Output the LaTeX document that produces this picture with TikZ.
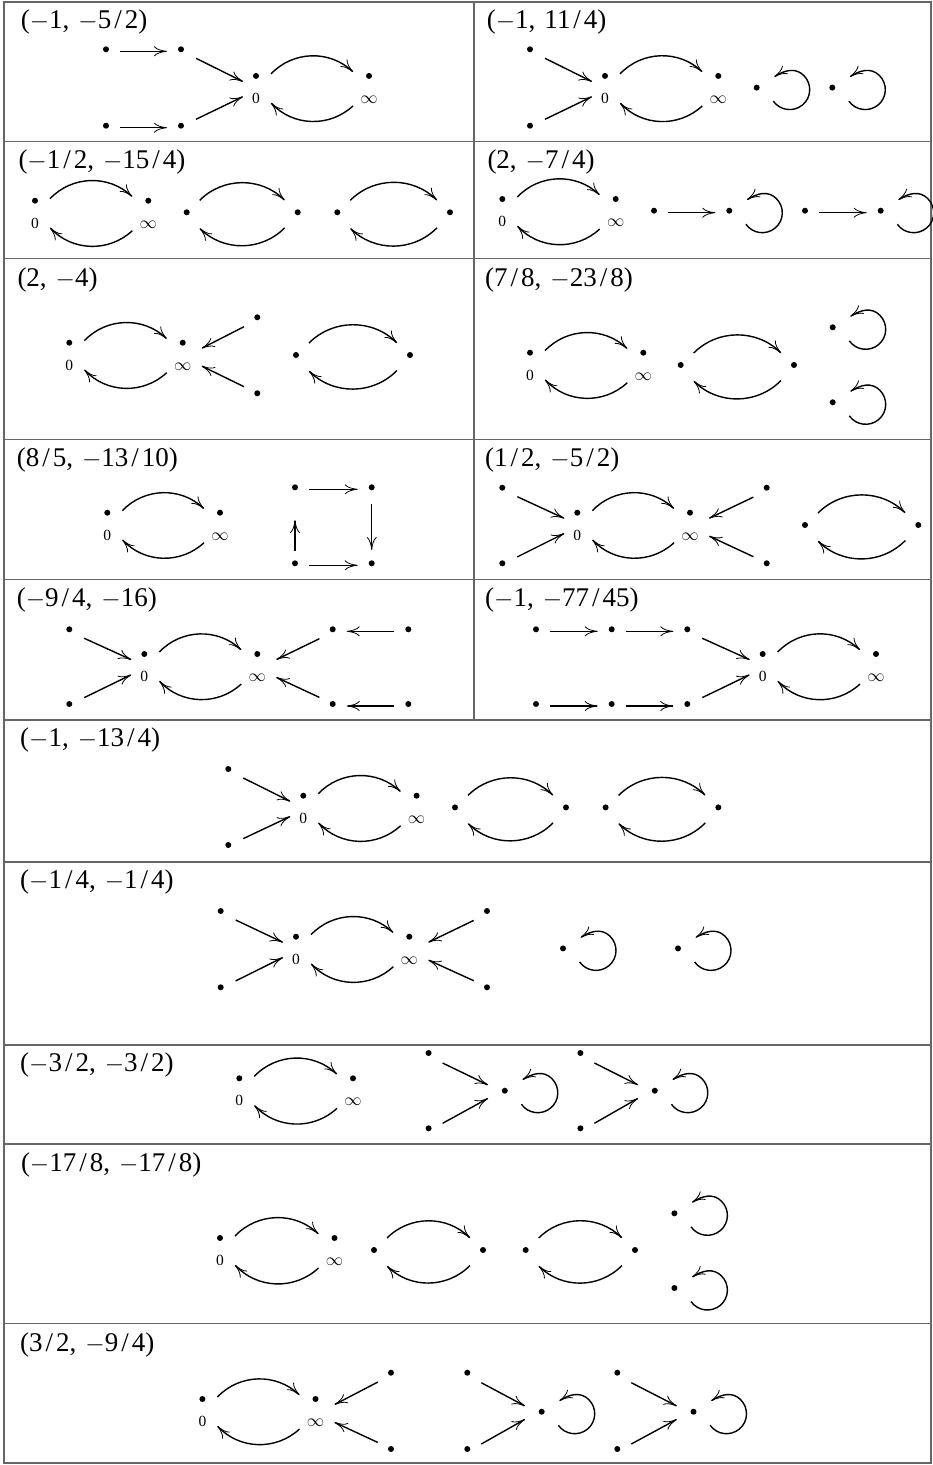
\documentclass[tikz,border=0pt]{standalone}
\usepackage{fontspec}
\setmainfont{Liberation Serif}
\usetikzlibrary{arrows.meta}
\newcommand\qm{\(-\)}
\newcommand\qs{\kern3pt/\kern3pt}
\newcommand\qc{,\kern9pt}
\tikzset{
 vtx/.style={circle,fill=black,inner sep=0pt,minimum size=6pt},
 lbl/.style={anchor=base,inner sep=0pt,font=\fontsize{15.5}{18}\selectfont},
 rowlab/.style={anchor=base west,inner sep=0pt,font=\fontsize{27}{32}\selectfont},
 arr/.style={line width=1.4pt,-{Computer Modern Rightarrow[length=13pt,width=10pt,line width=0.8pt]}},
 gridline/.style={line width=1.6pt,draw=black!60},
}
\newcommand\Zinf[4]{%
 \node[vtx] (#1z) at (#2,#4) {};
 \node[vtx] (#1i) at (#3,#4) {};
 \node[lbl] (#1zl) at (#2,#4+27.3) {0};
 \node[lbl,font=\fontsize{17.28}{20}\selectfont] (#1il) at (#3,#4+27.3) {$\infty$};
 \draw[arr] ([xshift=15pt,yshift=2pt]#1z.center) to[bend left=45] ([xshift=-16pt,yshift=4pt]#1i.center);
 \draw[arr] ([xshift=-16pt,yshift=-30pt]#1i.center) to[bend left=45] ([xshift=15pt,yshift=-27pt]#1z.center);
}
\newcommand\PP[2]{%
 \draw[arr] ([xshift=13pt,yshift=12pt]#1.center) to[bend left=45] ([xshift=-13pt,yshift=12pt]#2.center);
 \draw[arr] ([xshift=-13pt,yshift=-15.5pt]#2.center) to[bend left=45] ([xshift=13pt,yshift=-16pt]#1.center);
}
\newcommand\LP[1]{%
 \draw[arr] ([xshift=16.6pt,yshift=-13.5pt]#1.center)
   .. controls ([xshift=23.3pt,yshift=-23.1pt]#1.center) and ([xshift=36.9pt,yshift=-24.8pt]#1.center) .. ([xshift=45.9pt,yshift=-17.3pt]#1.center)
   .. controls ([xshift=54.9pt,yshift=-9.8pt]#1.center) and ([xshift=55.4pt,yshift=3.8pt]#1.center) .. ([xshift=47.1pt,yshift=12.1pt]#1.center)
   .. controls ([xshift=38.8pt,yshift=20.4pt]#1.center) and ([xshift=28pt,yshift=17.5pt]#1.center) .. ([xshift=17.7pt,yshift=10.9pt]#1.center);
}
\newcommand\HA[2]{\draw[arr] ([xshift=14pt,yshift=-2pt]#1.center) -- ([xshift=-14pt,yshift=-2pt]#2.center);}
\newcommand\HL[2]{\draw[arr] ([xshift=-14pt,yshift=-2pt]#1.center) -- ([xshift=14pt,yshift=-2pt]#2.center);}
\newcommand\TZ[2]{\draw[arr] ([xshift=15pt,yshift=-9pt]#1.center) -- ([xshift=-13pt,yshift=-5.7pt]#2.center);}
\newcommand\BZ[2]{\draw[arr] ([xshift=15pt,yshift=6.4pt]#1.center) -- ([xshift=-13pt,yshift=-20.7pt]#2.center);}
\newcommand\TI[2]{\draw[arr] ([xshift=-13.3pt,yshift=-9.4pt]#1.center) -- ([xshift=19pt,yshift=-5.6pt]#2.center);}
\newcommand\BI[2]{\draw[arr] ([xshift=-13.3pt,yshift=6.6pt]#1.center) -- ([xshift=19pt,yshift=-23.3pt]#2.center);}
\newcommand\TC[2]{\draw[arr] ([xshift=14pt,yshift=-10pt]#1.center) -- ([xshift=-16.7pt,yshift=5.7pt]#2.center);}
\newcommand\BC[2]{\draw[arr] ([xshift=14pt,yshift=5pt]#1.center) -- ([xshift=-16.7pt,yshift=-7.6pt]#2.center);}
\begin{document}
\begin{tikzpicture}[x=1pt,y=-1pt]
\useasboundingbox (0,0) rectangle (933,1465);
% grid
\draw[gridline] (4,2) rectangle (931,1463);
\draw[gridline] (474,2) -- (474,720);
\foreach \yy in {141.5,258.5,439.5,579.5,720,862,1045,1144,1323.5}
  \draw[gridline] (4,\yy) -- (931,\yy);
% cell 1
\node[rowlab] (aL) at (20.7,28.3) {(\qm1\qc\qm5\qs2)};
\node[vtx] (a1) at (106,49.3) {};
\node[vtx] (a2) at (181,49.3) {};
\node[vtx] (a3) at (106,125.7) {};
\node[vtx] (a4) at (181,125.7) {};
\Zinf{a}{256}{369}{75.9}
\HA{a1}{a2}\HA{a3}{a4}\TZ{a2}{az}\BZ{a4}{az}
% cell 2
\node[rowlab] (bL) at (486.7,28.3) {(\qm1\qc11\qs4)};
\Zinf{b}{605}{718.3}{75.9}
\node[vtx] (b1) at (530,49.3) {};
\node[vtx] (b2) at (530,125.7) {};
\TZ{b1}{bz}\BZ{b2}{bz}
\node[vtx] (b3) at (756.7,87.6) {};
\node[vtx] (b4) at (832.3,87.6) {};
\LP{b3}\LP{b4}
% cell 3
\node[rowlab] (cL) at (18.3,168.3) {(\qm1\qs2\qc\qm15\qs4)};
\Zinf{c}{35}{148.3}{200.7}
\node[vtx] (c1) at (186.7,212.3) {};
\node[vtx] (c2) at (297.7,212.3) {};
\node[vtx] (c3) at (337.3,212.3) {};
\node[vtx] (c4) at (450,212.3) {};
\PP{c1}{c2}\PP{c3}{c4}
% cell 4
\node[rowlab] (dL) at (487.3,168.3) {(2\qc\qm7\qs4)};
\Zinf{d}{502.3}{615.7}{199}
\node[vtx] (d1) at (654,210.7) {};
\node[vtx] (d2) at (729.3,210.7) {};
\node[vtx] (d3) at (805,210.7) {};
\node[vtx] (d4) at (880.7,210.7) {};
\HA{d1}{d2}\HA{d3}{d4}\LP{d2}\LP{d4}
% cell 5
\node[rowlab] (eL) at (17.3,286) {(2\qc\qm4)};
\Zinf{e}{69.3}{182.7}{342.7}
\node[vtx] (e1) at (257.3,317.3) {};
\node[vtx] (e2) at (257.3,393.3) {};
\TI{e1}{ei}\BI{e2}{ei}
\node[vtx] (e3) at (296,355) {};
\node[vtx] (e4) at (410,355) {};
\PP{e3}{e4}
% cell 6
\node[rowlab] (fL) at (485,286) {(7\qs8\qc\qm23\qs8)};
\Zinf{f}{530}{643.3}{352.7}
\node[vtx] (f1) at (680.7,365) {};
\node[vtx] (f2) at (794,365) {};
\PP{f1}{f2}
\node[vtx] (f3) at (832.7,327.3) {};
\node[vtx] (f4) at (832.7,402.3) {};
\LP{f3}\LP{f4}
% cell 7
\node[rowlab] (gL) at (16.7,466.7) {(8\qs5\qc\qm13\qs10)};
\Zinf{g}{107.3}{220}{512.7}
\node[vtx] (g1) at (295,487.3) {};
\node[vtx] (g2) at (371.7,487.3) {};
\node[vtx] (g3) at (295,563.3) {};
\node[vtx] (g4) at (371.7,563.3) {};
\HA{g1}{g2}\HA{g3}{g4}
\draw[arr] ([yshift=-16.7pt]g2.center) -- ([yshift=13.3pt]g4.center);
\draw[arr] ([yshift=12.6pt]g3.center) -- ([yshift=-32.7pt]g1.center);
% cell 8
\node[rowlab] (hL) at (485,466.7) {(1\qs2\qc\qm5\qs2)};
\Zinf{h}{577.3}{690}{512.7}
\node[vtx] (h1) at (502.3,487.7) {};
\node[vtx] (h2) at (502.3,563.3) {};
\node[vtx] (h3) at (766.7,487.7) {};
\node[vtx] (h4) at (766.7,563.3) {};
\node[vtx] (h5) at (805,525) {};
\node[vtx] (h6) at (918.3,525) {};
\TZ{h1}{hz}\BZ{h2}{hz}\TI{h3}{hi}\BI{h4}{hi}\PP{h5}{h6}
% cell 9
\node[rowlab] (kL) at (16.7,606.7) {(\qm9\qs4\qc\qm16)};
\Zinf{k}{144.3}{257.3}{654}
\node[vtx] (k1) at (69.3,629.3) {};
\node[vtx] (k2) at (69.3,704) {};
\node[vtx] (k3) at (332.7,629.3) {};
\node[vtx] (k4) at (408.3,629.3) {};
\node[vtx] (k5) at (332.7,704) {};
\node[vtx] (k6) at (408.3,704) {};
\TZ{k1}{kz}\BZ{k2}{kz}\TI{k3}{ki}\BI{k5}{ki}\HL{k4}{k3}\HL{k6}{k5}
% cell 10
\node[rowlab] (mL) at (485,606.7) {(\qm1\qc\qm77\qs45)};
\Zinf{m}{762.7}{876}{654}
\node[vtx] (m1) at (536,629.3) {};
\node[vtx] (m2) at (611.7,629.3) {};
\node[vtx] (m3) at (687.3,629.3) {};
\node[vtx] (m4) at (536,704) {};
\node[vtx] (m5) at (611.7,704) {};
\node[vtx] (m6) at (687.3,704) {};
\HA{m1}{m2}\HA{m2}{m3}\HA{m4}{m5}\HA{m5}{m6}\TZ{m3}{mz}\BZ{m6}{mz}
% row 11
\node[rowlab] (nL) at (20,746.5) {(\qm1\qc\qm13\qs4)};
\Zinf{n}{303.3}{416.6}{795.7}
\node[vtx] (n1) at (228.3,769) {};
\node[vtx] (n2) at (228.3,845) {};
\TZ{n1}{nz}\BZ{n2}{nz}
\node[vtx] (n3) at (455,807.4) {};
\node[vtx] (n4) at (566,807.4) {};
\node[vtx] (n5) at (605.6,807.4) {};
\node[vtx] (n6) at (718.3,807.4) {};
\PP{n3}{n4}\PP{n5}{n6}
% row 12
\node[rowlab] (pL) at (20,888.5) {(\qm1\qs4\qc\qm1\qs4)};
\Zinf{p}{296}{409.3}{936.7}
\node[vtx] (p1) at (220.7,911) {};
\node[vtx] (p2) at (220.7,987.3) {};
\node[vtx] (p3) at (487,911) {};
\node[vtx] (p4) at (487,987.3) {};
\node[vtx] (p5) at (563,948.4) {};
\node[vtx] (p6) at (678,948.4) {};
\TZ{p1}{pz}\BZ{p2}{pz}\TI{p3}{pi}\BI{p4}{pi}\LP{p5}\LP{p6}
% row 13
\node[rowlab] (qL) at (20,1071.5) {(\qm3\qs2\qc\qm3\qs2)};
\Zinf{q}{239.3}{353}{1078.3}
\node[vtx] (q1) at (428.6,1053) {};
\node[vtx] (q2) at (428.6,1128.3) {};
\node[vtx] (q3) at (504.8,1090.7) {};
\node[vtx] (q4) at (580.4,1053) {};
\node[vtx] (q5) at (580.4,1128.3) {};
\node[vtx] (q6) at (654.8,1090.7) {};
\TC{q1}{q3}\BC{q2}{q3}\LP{q3}\TC{q4}{q6}\BC{q5}{q6}\LP{q6}
% row 14
\node[rowlab] (rL) at (20.8,1171.7) {(\qm17\qs8\qc\qm17\qs8)};
\Zinf{r}{220}{334.5}{1238}
\node[vtx] (r1) at (374,1250) {};
\node[vtx] (r2) at (483,1250) {};
\node[vtx] (r3) at (525.7,1250) {};
\node[vtx] (r4) at (635,1250) {};
\PP{r1}{r2}\PP{r3}{r4}
\node[vtx] (r5) at (674.4,1213.3) {};
\node[vtx] (r6) at (674.4,1288) {};
\LP{r5}\LP{r6}
% row 15
\node[rowlab] (sL) at (20,1351) {(3\qs2\qc\qm9\qs4)};
\Zinf{s}{202.4}{315.5}{1399}
\node[vtx] (s1) at (391,1372.7) {};
\node[vtx] (s2) at (391,1449) {};
\TI{s1}{si}\BI{s2}{si}
\node[vtx] (s3) at (467.3,1372.7) {};
\node[vtx] (s4) at (467.3,1449) {};
\node[vtx] (s5) at (541.7,1411.7) {};
\TC{s3}{s5}\BC{s4}{s5}\LP{s5}
\node[vtx] (s6) at (617.3,1372.7) {};
\node[vtx] (s7) at (617.3,1449) {};
\node[vtx] (s8) at (693.5,1411.7) {};
\TC{s6}{s8}\BC{s7}{s8}\LP{s8}
\end{tikzpicture}
\end{document}
